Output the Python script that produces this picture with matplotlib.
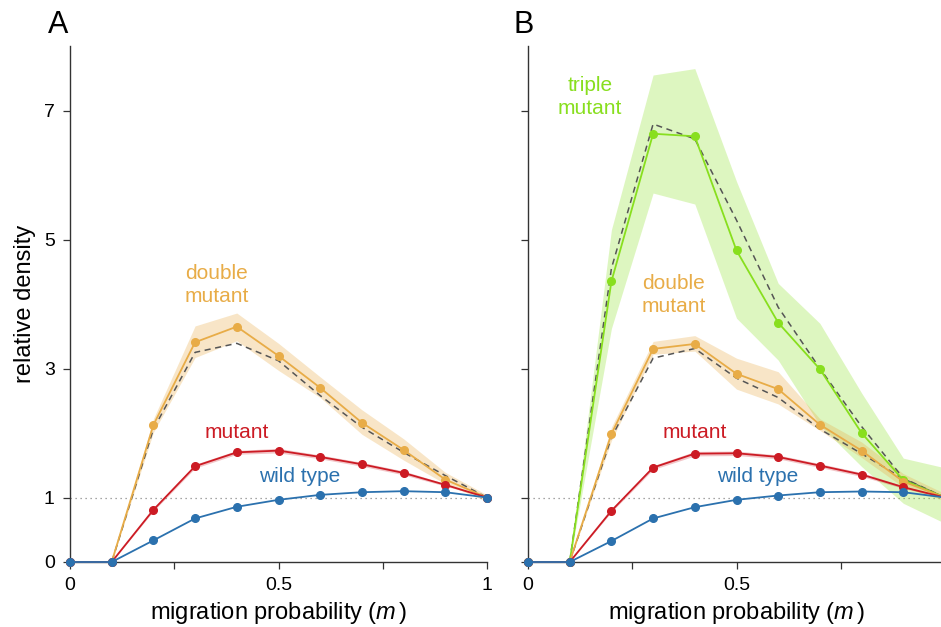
import numpy as np
import matplotlib.pyplot as plt

plt.rcParams['font.family'] = ['Liberation Sans', 'DejaVu Sans']
plt.rcParams['mathtext.fontset'] = 'custom'
plt.rcParams['mathtext.it'] = 'Liberation Sans:italic'
plt.rcParams['mathtext.rm'] = 'Liberation Sans'

# migration probability
m = [0.0, 0.1, 0.2, 0.3, 0.4, 0.5, 0.6, 0.7, 0.8, 0.9, 1.0]

# panel A
wt_a = [0, 0, 0.335, 0.675, 0.856, 0.964, 1.041, 1.082, 1.098, 1.082, 1.0]
mut_a = [0, 0, 0.809, 1.485, 1.70, 1.727, 1.629, 1.515, 1.381, 1.196, 1.0]
mut_a_err = [0, 0, 0.02, 0.03, 0.03, 0.035, 0.03, 0.03, 0.03, 0.02, 0.0]
dbl_a = [0, 0, 2.124, 3.407, 3.649, 3.196, 2.701, 2.160, 1.737, 1.278, 1.0]
dbl_a_hi = [0, 0, 2.22, 3.66, 3.86, 3.39, 2.87, 2.36, 1.91, 1.39, 1.04]
dbl_a_lo = [0, 0, 2.01, 3.17, 3.43, 2.97, 2.55, 1.98, 1.58, 1.21, 0.94]
dbl_a_pred = [0, 0, 2.06, 3.25, 3.39, 3.12, 2.58, 2.09, 1.70, 1.34, 1.0]

# panel B
wt_b = [0, 0, 0.325, 0.675, 0.85, 0.964, 1.031, 1.082, 1.093, 1.082, 1.0]
mut_b = [0, 0, 0.794, 1.464, 1.68, 1.686, 1.629, 1.495, 1.356, 1.16, 1.0]
mut_b_err = [0, 0, 0.02, 0.03, 0.035, 0.035, 0.03, 0.03, 0.03, 0.02, 0.0]
dbl_b = [0, 0, 1.985, 3.304, 3.381, 2.918, 2.68, 2.129, 1.727, 1.247, 1.0]
dbl_b_hi = [0, 0, 2.09, 3.42, 3.51, 3.16, 2.95, 2.22, 1.86, 1.37, 1.06]
dbl_b_lo = [0, 0, 1.88, 3.22, 3.27, 2.68, 2.45, 2.04, 1.62, 1.16, 0.95]
dbl_b_pred = [0, 0, 1.93, 3.16, 3.31, 2.85, 2.55, 2.06, 1.68, 1.29, 1.0]
tri_b = [0, 0, 4.35, 6.64, 6.60, 4.83, 3.71, 2.99, 2.0, 1.27, 1.0]
tri_b_hi = [0, 0, 5.15, 7.55, 7.65, 5.90, 4.32, 3.70, 2.62, 1.61, 1.46]
tri_b_lo = [0, 0, 3.62, 5.72, 5.55, 3.78, 3.13, 2.12, 1.48, 0.91, 0.60]
tri_b_pred = [0, 0, 4.55, 6.79, 6.56, 5.30, 3.95, 3.00, 2.10, 1.30, 1.0]

c_wt = '#2b71ae'
c_mut = '#cc1b24'
c_dbl = '#e8ac47'
c_tri = '#88df1e'

fig = plt.figure(figsize=(9.41, 6.27), dpi=100)
ax_a = fig.add_axes([70/941, 65/627, 417/941, 516/627])
ax_b = fig.add_axes([528/941, 65/627, 417/941, 516/627])


def series(ax, y, color, z):
    ax.plot(m, y, '-', color=color, lw=1.3, marker='o', ms=5.5,
            zorder=z, clip_on=False)


def band(ax, lo, hi, color, alpha, z):
    ax.fill_between(m, lo, hi, color=color, alpha=alpha, lw=0, zorder=z)


def pred(ax, y):
    ax.plot(m, y, '--', color='#555555', lw=1.1, dashes=(4, 3), zorder=4)


# panel A
band(ax_a, dbl_a_lo, dbl_a_hi, c_dbl, 0.3, 1)
mlo = np.array(mut_a) - np.array(mut_a_err)
mhi = np.array(mut_a) + np.array(mut_a_err)
band(ax_a, mlo, mhi, c_mut, 0.25, 2)
pred(ax_a, dbl_a_pred)
series(ax_a, dbl_a, c_dbl, 5)
series(ax_a, mut_a, c_mut, 6)
series(ax_a, wt_a, c_wt, 7)

ax_a.text(0.352, 4.29, 'double\nmutant', color=c_dbl, fontsize=15,
          ha='center', va='center', linespacing=1.25)
ax_a.text(0.40, 2.0, 'mutant', color=c_mut, fontsize=15, ha='center', va='center')
ax_a.text(0.55, 1.32, 'wild type', color=c_wt, fontsize=15, ha='center', va='center')

# panel B
band(ax_b, tri_b_lo, tri_b_hi, c_tri, 0.28, 1)
band(ax_b, dbl_b_lo, dbl_b_hi, c_dbl, 0.3, 2)
mlo = np.array(mut_b) - np.array(mut_b_err)
mhi = np.array(mut_b) + np.array(mut_b_err)
band(ax_b, mlo, mhi, c_mut, 0.25, 3)
pred(ax_b, tri_b_pred)
pred(ax_b, dbl_b_pred)
series(ax_b, tri_b, c_tri, 5)
series(ax_b, dbl_b, c_dbl, 6)
series(ax_b, mut_b, c_mut, 7)
series(ax_b, wt_b, c_wt, 8)

ax_b.text(0.149, 7.21, 'triple\nmutant', color=c_tri, fontsize=15,
          ha='center', va='center', linespacing=1.25)
ax_b.text(0.35, 4.14, 'double\nmutant', color=c_dbl, fontsize=15,
          ha='center', va='center', linespacing=1.25)
ax_b.text(0.40, 2.0, 'mutant', color=c_mut, fontsize=15, ha='center', va='center')
ax_b.text(0.55, 1.32, 'wild type', color=c_wt, fontsize=15, ha='center', va='center')

for ax in (ax_a, ax_b):
    ax.axhline(1, color='#888888', lw=0.9, ls=(0, (1, 3)), zorder=0)
    ax.set_xlim(0, 1)
    ax.set_ylim(0, 8)
    ax.spines['top'].set_visible(False)
    ax.spines['right'].set_visible(False)
    for s in ('left', 'bottom'):
        ax.spines[s].set_linewidth(1.0)
        ax.spines[s].set_color('#333333')
    ax.set_xticks([0, 0.25, 0.5, 0.75, 1])
    ax.set_yticks([0, 1, 3, 5, 7])
    ax.tick_params(direction='out', length=5, width=0.9, color='#333333',
                   labelsize=14, pad=6)
    ax.set_xlabel(r'migration probability ($m\,$)', fontsize=17, labelpad=4)

ax_a.set_xticklabels(['0', '', '0.5', '', '1'])
# the "1" of panel B falls just past the right edge of the figure
ax_b.set_xticklabels(['0', '', '0.5', '', ''])
ax_a.set_yticklabels(['0', '1', '3', '5', '7'])
ax_b.set_yticklabels([])
ax_a.set_ylabel('relative density', fontsize=17, labelpad=6)

fig.text(58/941, 1 - 25/627, 'A', fontsize=22, ha='center', va='center')
fig.text(524/941, 1 - 25/627, 'B', fontsize=22, ha='center', va='center')

fig.savefig('out.png', dpi=100)
